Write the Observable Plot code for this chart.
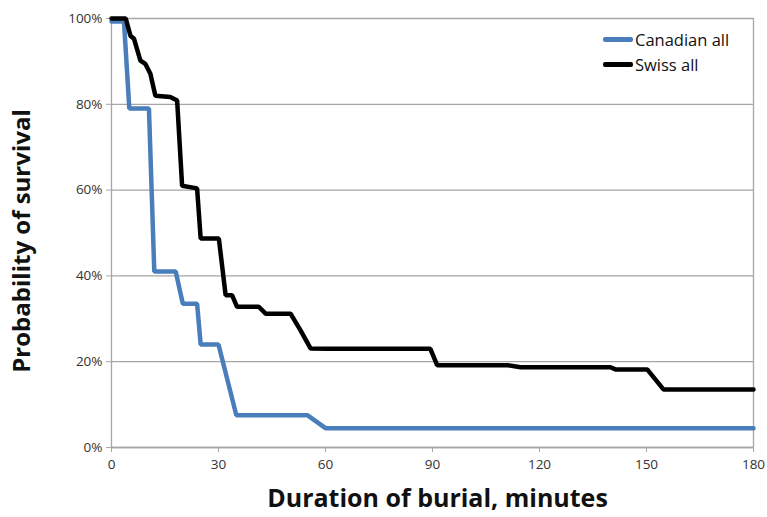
<!DOCTYPE html>
<html>
<head>
<meta charset="utf-8">
<script src="https://cdn.jsdelivr.net/npm/d3@7"></script>
<script src="https://cdn.jsdelivr.net/npm/@observablehq/plot@0.6"></script>
<style>
  html, body { margin: 0; padding: 0; background: #fff; }
  #wrap { position: relative; width: 767px; height: 517px; font-family: "Open Sans", sans-serif; }
  .legend { position: absolute; left: 603px; font-size: 16.5px; color: #111; display: flex; align-items: center; }
  .legend .sw { display: inline-block; width: 30px; height: 4.5px; margin-right: 2px; border-radius: 2px; }
</style>
</head>
<body>
<div id="wrap"></div>
<script>
const xTicks = [0, 30, 60, 90, 120, 150, 180];
const yTicks = [0, 20, 40, 60, 80, 100];
const seriesNames = ["Canadian all", "Swiss all"];
const seriesColors = ["#4a7ebb", "#000000"];

const canMin  = [0, 3.5, 5, 10.5, 12, 18, 20, 24, 25, 30, 35, 55, 60, 180];
const canSurv = [99.3, 99.3, 79, 79, 41, 41, 33.5, 33.5, 24, 24, 7.5, 7.5, 4.5, 4.5];

const swissMin  = [0, 4, 5.3, 6.3, 8.1, 9.5, 10.9, 12.3, 16.5, 18.4, 19.8, 24, 25, 30.1, 32, 33.8, 35.2, 41.3, 43.2, 50.2, 53, 55.8, 60.5, 89.4, 91.3, 110.9, 114.7, 139.9, 141.3, 150.2, 154.8, 180];
const swissSurv = [100, 100, 96, 95.3, 90.2, 89.4, 87.1, 82, 81.7, 80.9, 61, 60.4, 48.7, 48.7, 35.5, 35.5, 32.8, 32.8, 31.2, 31.2, 27.3, 23.1, 23, 23, 19.2, 19.2, 18.7, 18.7, 18.2, 18.2, 13.5, 13.5];

const can = canMin.map((m, i) => ({min: m, surv: canSurv[i]}));
const swiss = swissMin.map((m, i) => ({min: m, surv: swissSurv[i]}));

const plot = Plot.plot({
  width: 767,
  height: 517,
  marginLeft: 111,
  marginRight: 14,
  marginTop: 18,
  marginBottom: 70,
  style: {fontFamily: "Open Sans, sans-serif", background: "#fff"},
  x: {domain: [0, 180]},
  y: {domain: [0, 100]},
  marks: [
    Plot.gridY(yTicks, {stroke: "#a6a6a6", strokeOpacity: 1, strokeWidth: 1.3}),
    Plot.ruleX([0, 180], {stroke: "#a6a6a6", strokeWidth: 1.3}),
    Plot.ruleY([0], {stroke: "#a6a6a6", strokeWidth: 1.3}),
    Plot.axisY(yTicks, {tickSize: 5, tickPadding: 4, stroke: "#a6a6a6", fill: "#333", fontSize: 13.5, tickFormat: d => d + "%", label: null}),
    Plot.axisX(xTicks, {tickSize: 5, tickPadding: 7, stroke: "#a6a6a6", fill: "#333", fontSize: 13.5, label: null}),
    Plot.line(can, {x: "min", y: "surv", stroke: seriesColors[0], strokeWidth: 4.5, strokeLinejoin: "miter"}),
    Plot.line(swiss, {x: "min", y: "surv", stroke: seriesColors[1], strokeWidth: 4.5, strokeLinejoin: "miter"}),
    Plot.text(["Duration of burial, minutes"], {frameAnchor: "bottom", lineAnchor: "middle", textAnchor: "middle", dx: 5, dy: 51, fontSize: 25, fontWeight: "bold", fill: "#111"}),
    Plot.text(["Probability of survival"], {frameAnchor: "left", lineAnchor: "middle", textAnchor: "middle", dx: -89, dy: 8, rotate: -90, fontSize: 24, fontWeight: "bold", fill: "#111"})
  ]
});

const wrap = document.getElementById("wrap");
wrap.appendChild(plot);
seriesNames.forEach((name, i) => {
  const d = document.createElement("div");
  d.className = "legend";
  d.style.top = (28 + i * 25) + "px";
  d.innerHTML = `<span class="sw" style="background:${seriesColors[i]}"></span><span>${name}</span>`;
  wrap.appendChild(d);
});
</script>
</body>
</html>
